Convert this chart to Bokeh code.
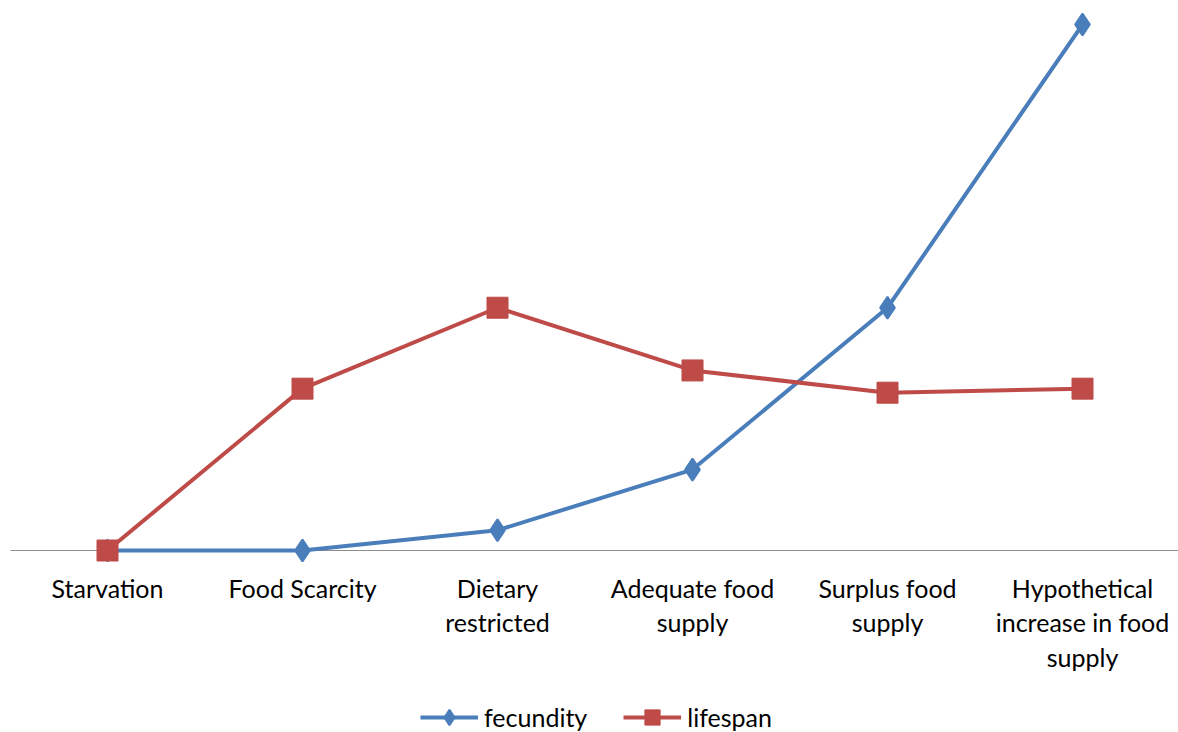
from bokeh.plotting import figure
from bokeh.models import Range1d, Legend, LegendItem, ColumnDataSource
from bokeh.core.properties import value
from bokeh.embed import file_html
from bokeh.resources import INLINE

categories = ["Starvation", "Food Scarcity", "Dietary\nrestricted", "Adequate food\nsupply",
              "Surplus food\nsupply", "Hypothetical\nincrease in food\nsupply"]
fecundity = [0, 0, 1, 4, 12, 26]
lifespan = [0, 8, 12, 8.9, 7.8, 8]

xs = list(range(len(categories)))
BLUE = "#4A7EBB"
RED = "#BE4B48"
FONT = "Lato"

W, H = 1178, 732
PX_PER_UNIT = 20.23   # vertical scale (px per data unit)
PX_PER_CAT = 195.0    # horizontal spacing between categories
BASE_PX = 550         # baseline position from top
X0_PX = 107           # first category position from left

y_start = -(H - BASE_PX) / PX_PER_UNIT
y_end = BASE_PX / PX_PER_UNIT
x_start = -X0_PX / PX_PER_CAT
x_end = x_start + W / PX_PER_CAT

p = figure(frame_width=W, frame_height=H, output_backend="svg", toolbar_location=None,
           x_range=Range1d(x_start, x_end), y_range=Range1d(y_start, y_end),
           min_border_left=0, min_border_right=0, min_border_top=0, min_border_bottom=0)
p.outline_line_color = None
p.grid.visible = False
p.axis.visible = False

# category axis baseline
p.segment(x0=[x_start + 10 / PX_PER_CAT], y0=[0], x1=[x_end], y1=[0],
          line_color="#8c8c8c", line_width=1.2)

# category tick labels (one entry per text line)
lx, ly, lt = [], [], []
for i, c in zip(xs, categories):
    for k, line in enumerate(c.split("\n")):
        lx.append(i)
        ly.append(-(37 + 34.5 * k) / PX_PER_UNIT)
        lt.append(line)
p.text(x="x", y="y", text="t", source=ColumnDataSource(dict(x=lx, y=ly, t=lt)),
       text_font=value(FONT), text_font_size="25px", text_color="#000000",
       text_align="center", text_baseline="middle")

l1 = p.line(xs, fecundity, line_color=BLUE, line_width=4)
m1 = p.scatter(xs, fecundity, marker="diamond", size=22,
               fill_color=BLUE, line_color=BLUE, line_width=2)
l2 = p.line(xs, lifespan, line_color=RED, line_width=4)
m2 = p.scatter(xs, lifespan, marker="square", size=21, fill_color=RED, line_color=RED)

legend = Legend(items=[LegendItem(label="fecundity", renderers=[l1, m1]),
                       LegendItem(label="lifespan", renderers=[l2, m2])],
                orientation="horizontal", location=(420, -4),
                label_text_font=FONT, label_text_font_size="25px", label_text_color="#000000",
                glyph_width=58, glyph_height=38, label_standoff=6, spacing=36,
                label_height=38,
                border_line_color=None, background_fill_alpha=0, padding=0, margin=0)
p.add_layout(legend, "center")

open("out.html", "w").write(file_html(p, INLINE))
